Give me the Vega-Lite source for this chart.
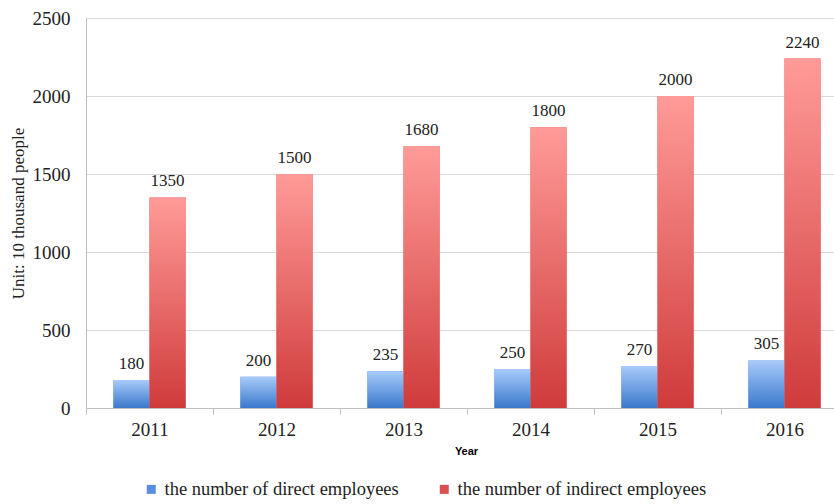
{
  "$schema": "https://vega.github.io/schema/vega-lite/v6.json",
  "autosize": "none",
  "width": 748,
  "height": 390,
  "padding": {"left": 86, "top": 18, "right": 0, "bottom": 96},
  "background": "white",
  "config": {"view": {"stroke": null}, "font": "Liberation Serif"},
  "data": {"values": [
    {"year": "2011", "series": "the number of direct employees", "value": 180},
    {"year": "2012", "series": "the number of direct employees", "value": 200},
    {"year": "2013", "series": "the number of direct employees", "value": 235},
    {"year": "2014", "series": "the number of direct employees", "value": 250},
    {"year": "2015", "series": "the number of direct employees", "value": 270},
    {"year": "2016", "series": "the number of direct employees", "value": 305},
    {"year": "2011", "series": "the number of indirect employees", "value": 1350},
    {"year": "2012", "series": "the number of indirect employees", "value": 1500},
    {"year": "2013", "series": "the number of indirect employees", "value": 1680},
    {"year": "2014", "series": "the number of indirect employees", "value": 1800},
    {"year": "2015", "series": "the number of indirect employees", "value": 2000},
    {"year": "2016", "series": "the number of indirect employees", "value": 2240}
  ]},
  "encoding": {
    "x": {
      "field": "year", "type": "nominal",
      "scale": {"paddingInner": 0, "paddingOuter": 0, "range": [0, 762]},
      "axis": {
        "title": "Year", "titleFont": "Liberation Sans", "titleFontSize": 11, "titleFontWeight": "bold",
        "titleColor": "#000", "titlePadding": 6, "titleX": 380,
        "labelAngle": 0, "labelFont": "Liberation Serif", "labelFontSize": 19, "labelColor": "#222",
        "labelPadding": 6, "tickBand": "extent", "tickSize": 6, "tickColor": "#bfbfbf",
        "domainColor": "#bfbfbf", "grid": false
      }
    },
    "xOffset": {"field": "series", "type": "nominal", "scale": {"paddingInner": 0, "paddingOuter": 0.76}},
    "y": {
      "field": "value", "type": "quantitative",
      "scale": {"domain": [0, 2500]},
      "axis": {
        "title": "Unit: 10 thousand people", "titleFont": "Liberation Serif", "titleFontSize": 17,
        "titleFontWeight": "normal", "titleColor": "#222", "titlePadding": 5,
        "values": [0, 500, 1000, 1500, 2000, 2500], "format": "d",
        "labelFont": "Liberation Serif", "labelFontSize": 19, "labelColor": "#222", "labelPadding": 16,
        "ticks": false, "domainColor": "#bfbfbf", "gridColor": "#d9d9d9"
      }
    }
  },
  "layer": [
    {
      "mark": {"type": "bar"},
      "encoding": {
        "color": {
          "field": "series", "type": "nominal",
          "scale": {"domain": ["the number of direct employees", "the number of indirect employees"], "range": ["#5a8ee0", "#d9504e"]},
          "legend": {
            "title": null, "orient": "none", "legendX": 56, "legendY": 462, "direction": "horizontal",
            "labelFont": "Liberation Serif", "labelFontSize": 18.5, "labelColor": "#222", "labelLimit": 0,
            "symbolType": "square", "symbolSize": 81, "symbolStrokeWidth": 0, "labelOffset": 4, "columnPadding": 36
          }
        }
      }
    },
    {
      "transform": [{"filter": "datum.series == 'the number of direct employees'"}],
      "mark": {"type": "bar", "fill": {"gradient": "linear", "x1": 0, "y1": 0, "x2": 0, "y2": 1,
        "stops": [{"offset": 0, "color": "#a8cbfa"}, {"offset": 1, "color": "#3a78cc"}]}}
    },
    {
      "transform": [{"filter": "datum.series == 'the number of indirect employees'"}],
      "mark": {"type": "bar", "fill": {"gradient": "linear", "x1": 0, "y1": 0, "x2": 0, "y2": 1,
        "stops": [{"offset": 0, "color": "#ff9b98"}, {"offset": 1, "color": "#cf3b3b"}]}}
    },
    {
      "mark": {"type": "text", "baseline": "bottom", "dy": -7, "font": "Liberation Serif", "fontSize": 17, "color": "#222"},
      "encoding": {"text": {"field": "value", "type": "quantitative"}}
    }
  ]
}
